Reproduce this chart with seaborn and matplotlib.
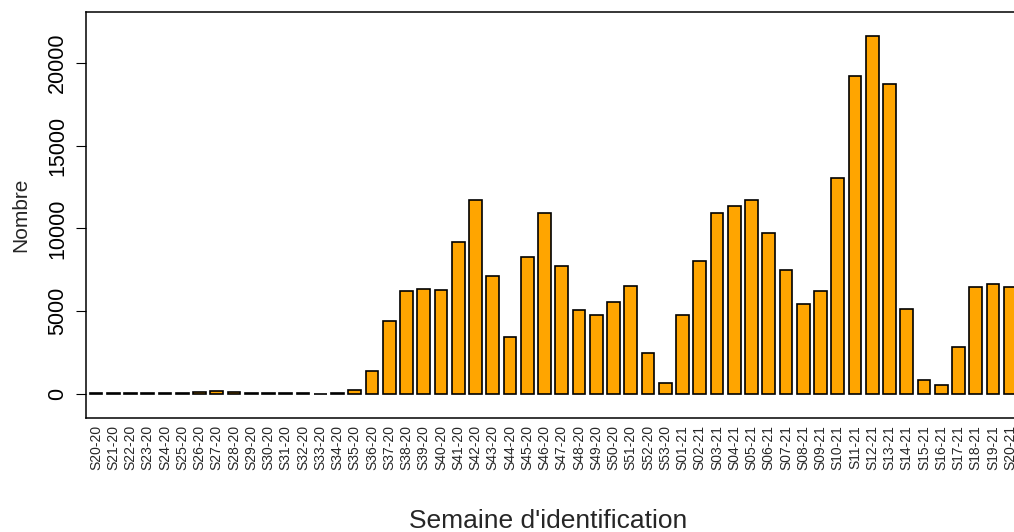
import matplotlib
matplotlib.use("Agg")
import matplotlib.pyplot as plt
import seaborn as sns

# week labels: S20-20 .. S53-20, then S01-21 .. S20-21
weeks_2020 = ["S%02d-20" % w for w in range(20, 54)]
weeks_2021 = ["S%02d-21" % w for w in range(1, 21)]
semaines = weeks_2020 + weeks_2021

counts_2020 = [60, 60, 60, 60, 60, 90, 130, 200, 130, 60, 60, 60, 60, 30, 60,
               220, 1400, 4400, 6200, 6350, 6300, 9200, 11750, 7150, 3450,
               8250, 10950, 7750, 5050, 4780, 5550, 6550, 2500, 650]
counts_2021 = [4800, 8050, 10950, 11350, 11700, 9750, 7500, 5450, 6250, 13050,
               19200, 21600, 18700, 5150, 850, 550, 2850, 6470, 6650, 6470]
nombre = counts_2020 + counts_2021

yticks = [0, 5000, 10000, 15000, 20000]

sns.set_style("white")
plt.rcParams['font.family'] = ['Liberation Sans', 'DejaVu Sans']

W, H = 1014, 532
fig = plt.figure(figsize=(W / 100, H / 100), dpi=100)
# plot box in pixels: left 85.5, top 12, bottom 418, right runs past the canvas
px_per_bar = 17.25
x_left, x_right = -0.61, 54.0
ax_w = (x_right - x_left) * px_per_bar
ax = fig.add_axes([85.5 / W, (H - 418) / H, ax_w / W, 406 / H])

sns.barplot(x=semaines, y=nombre, color="orange", saturation=1,
            edgecolor="black", linewidth=1.2, width=0.74, ax=ax)

ax.set_xlim(x_left, x_right)
ax.set_ylim(-1450, 23080)
ax.set_yticks(yticks)
ax.set_yticklabels([str(v) for v in yticks], fontsize=15.5, rotation=90, va="center")
ax.tick_params(axis="y", length=7.5, width=0.8, pad=5, left=True, colors="black")
ax.tick_params(axis="x", length=0, pad=5, labelsize=10, labelrotation=90)
for lab in ax.get_xticklabels():
    lab.set_va("top")

for sp in ax.spines.values():
    sp.set_visible(True)
    sp.set_color("black")
    sp.set_linewidth(1.1)

ax.set_xlabel("")
ax.set_ylabel("Nombre", fontsize=15)
ax.yaxis.set_label_coords((30 - 85.5) / ax_w, 0.5)
fig.text(548 / W, (H - 528) / H, "Semaine d'identification", fontsize=19,
         ha="center", va="baseline")

fig.savefig("out.png", dpi=100)
